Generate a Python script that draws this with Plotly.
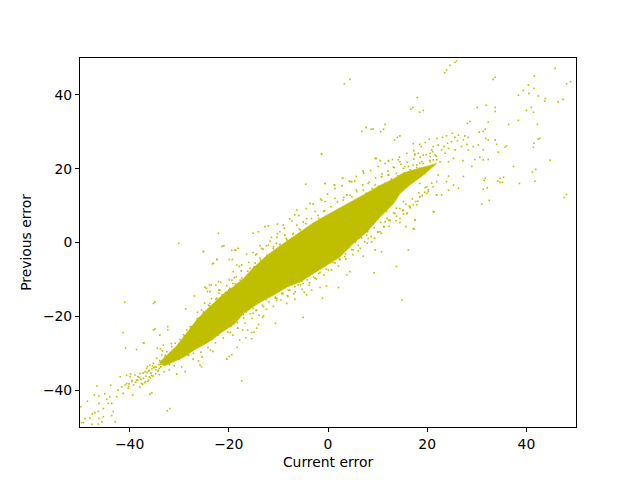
import plotly.graph_objects as go

# Dense core of the cloud (outline)
core_x = [-34,-30.5,-28.5,-26.5,-24.5,-22.4,-20.8,-19.1,-17.1,-15.1,-12.4,-10.3,-7.7,-5.6,-3,-.3,2.4,5.1,7.8,10.5,13.2,15.2,18.5,22,19,16.5,14.5,13.2,10.5,7.8,5.1,2.4,-.3,-3,-5.6,-8.3,-11,-13.7,-17.1,-18.8,-21.4,-24.1,-26.8,-29,-33]
core_y = [-32.5,-28,-24.5,-21,-18.2,-15.6,-13.6,-12,-9.8,-6.9,-3.6,-1.5,.9,3,5.3,7.4,9.4,11.2,13.4,15.5,17.2,18.9,20.2,21.5,18,15.6,13.2,10.5,6.9,2.8,-.3,-3.9,-6.2,-8.5,-10.7,-12.1,-14.3,-16.2,-19.3,-22,-24.3,-27,-29,-31,-33.5]

# Lower-left tail
low_x = [-49.7,-49,-49.3,-48,-47.6,-49.8,-48.5,-47.1,-46.6,-46.2,-46.2,-45,-44.6,-44,-43.8,-43.6,-44.3,-45.3,-46.3,-47,-47.5,-46.2,-45.3,-43.6,-43.3,-42.9,-45.6,-46.3,-42.6,-42.3,-41.9,-41.6,-41.3,-40.9,-40.6,-40.3,-39.9,-39.6,-39.2,-38.9,-38.6,-38.2,-37.9,-37.6,-37.2,-36.9,-36.6,-36.2,-35.9,-35.6,-35.2,-34.9,-34.5,-34.2,-33.9,-33.5,-33.2,-32.8,-32.5,-32.2,-31.8,-31.5,-31.1,-30.8,-30.5,-29.8,-29.5,-29.1,-28.8,-28.5,-28.1,-27.5,-27.1,-26.8,-29.5,-28.8,-30.5,-32.4,-31.9,-35.5,-35.9,-41.3,-37.1,-35.2,-34.9,-32.3,-32.3,-33.9,-34.9,-35.2,-28.7,-26.9,-25.1,-30.1,-21.4,-21,-19.4,-18.6,-19.9,-23.3,-22.4,-23.9,-24.5,-24.3,-22.6,-21.6,-22,-19.9,-19.2,-18.4,-17.9,-16.4,-14.4,-13.7,-12.4,-10.4,-8.4,-17.4,-20.1,-24.1,-25.1,-26.1,-27.8,-27.4,-26.4,-25.4,-28.2,-27.2,-26.1,-25.8,-25.5,-23.7,-23.2,-23.9,-24.2,-17.4,-20.4,-19.9,-19.4,-18.3,-17.8,-16.6,-15.4,-14.9,-16.2,-17.2,-18.2,-19.2,-20.2,-21.2,-23.2,-24.2,-14,-13.2,-15.4,-14.4,-13,-10.6,-10.3,-8.2,-6.9,-4.8,-3.8,-1.6,-.6,-2.6,-4,-5.3,-7.3,-9.3,-10.6,-41,-40.6,-40.2,-39.8,-39.4,-38.4,-38,-37,-36.4,-36,-35.4,-34,-33.6,-33,-32.6,-32,-31.4,-31,-30.4,-30,-33.8,-33.2,-32.8,-34.4,-33.4,-32,-31.6,-40.8,-40.1,-39.5,-38.8,-38.3,-37.7,-37.3,-36.7,-36.1,-35.7,-35.1,-34.7,-34.1,-33.7,-33.1,-32.7,-32.1,-31.7,-31.3,-30.7,-30.3,-29.7,-29.3,-38.6,-37.9,-37.4,-36.8,-36.3,-35.8,-35.3,-34.8,-34.3,-33.8,-33.3,-32.9,-32.4,-31.9,-31.2,-30.6,-30.1,-29.6,-37.2,-36.5,-36,-35.5,-34.6,-34,-33.5,-32.6,-32,-31.3,-30.8,-30.2]
low_y = [-48.8,-47.7,-48.8,-47.6,-49.3,-44.5,-43,-41.3,-38.9,-41.6,-43.6,-41,-42.5,-41.8,-38.7,-43.6,-43.6,-45,-45.8,-46.1,-46.5,-47.7,-47.2,-46.9,-45.8,-48.6,-48.6,-49.2,-41.8,-40,-36.4,-39.1,-40.9,-38.6,-38.2,-39.5,-36.4,-37.7,-38.6,-35.9,-37.3,-36.4,-35.5,-38.2,-36.8,-35,-34.1,-37.3,-33.2,-36,-32.7,-33.7,-31.4,-34.6,-32,-30.5,-33.2,-31,-29.6,-32.3,-30,-28.2,-31,-27.3,-29.6,-26.3,-29.3,-25,-28.4,-23.7,-30.5,-22.8,-30.1,-22.8,-33.7,-35,-35.7,-45.6,-45,-40.7,-41.1,-24.4,-27.2,-23.7,-23.4,-22.8,-23.7,-25.1,-16.1,-16.5,-18,-14.5,-2.4,-.2,-1.1,-.9,-2.1,-2.1,-4.6,-5.8,-4.6,-11.5,-12.4,-13.3,-11.6,-10.7,-13.8,-10.1,-11.1,-6.1,-6.5,-3.1,-3.1,-.9,-.9,-.2,-.2,-12.5,-15.1,-17,-18.8,-20.6,-22.8,-25.1,-26.4,-31,-30.6,-31.6,-32.1,-33.2,-33.7,-29.1,-29.5,-26.4,-25.1,-37.5,-31.6,-30.9,-30.4,-28.4,-26.4,-25.8,-26.1,-24.3,-23.7,-23.7,-23.2,-25.1,-24.3,-23.2,-26,-24.9,-22.2,-20.3,-24.4,-23.2,-19.9,-21.9,-15.1,-14.4,-13.9,-13.5,-11.6,-12.2,-5.5,-7.6,-8.4,-10.5,-11.1,-13.8,-15.1,-16.2,-36,-39,-35.6,-41.3,-37.2,-36.6,-38,-33.6,-36.4,-33.5,-35.8,-32.8,-35,-31.7,-34.5,-30.6,-33.4,-29.4,-31.6,-28.8,-27.8,-30.6,-28.6,-29.4,-32.4,-27.4,-28.6,-38.3,-37.4,-37.9,-36.3,-37.1,-35.4,-36.2,-34.8,-35.4,-33.9,-34.5,-33.1,-33.7,-32.2,-32.8,-31.2,-31.9,-30.3,-30.7,-29.1,-29.9,-28.4,-29,-39.2,-38.4,-37.7,-37.6,-36.7,-36.2,-35.6,-34.9,-33,-32.9,-31.7,-32,-30.1,-30.6,-28.7,-27.6,-27,-27.2,-35.2,-34.6,-34.2,-33.8,-34.1,-32.5,-32.5,-33.1,-31,-29.7,-29.3,-28.3]

# Upper fringe around the core, middle of the chart
upper_x = [-15.1,-14,-12.7,-12,-11.4,-10.3,-10.2,-9,-9.7,-8.7,-7.7,-6.3,-6.7,-6.3,-5,-4.3,-2.6,-3.6,-4.5,-1.3,-.6,-.6,1.3,-.9,-1.9,-3,-5.6,-7,-8.3,-11,-12,-13.4,-15.1,-13.7,-14.7,-15.7,-17.4,-19.1,-19.3,-23.1,-22.4,-21.1,-18.8,-18.1,-22.1,-25.1,-18.5,-17.7,-19.4,-22.1,-23.5,-24.8,-23.8,-21.8,-20.8,-19.8,-23.8,-25.5,-24.8,-22.4,1.4,3.1,3.8,4.8,5.8,7.1,8.1,9.5,10.8,12.2,13.8,12.8,14.9,15.5,17.2,18.5,20.6,21.2,17.5,18.5,19.6,14.2,12.2,9.7,7.1,4.8,2.9,-1.3]
upper_y = [2.5,2.9,4.3,4.5,1.4,1.4,5,4.7,2.9,2,6.4,8.8,7.5,4.7,5.6,6.5,8.4,10.6,15.8,11.5,11.1,16,15.6,8.4,6.5,4.7,3.4,2.5,.7,-1.1,-.7,-1.6,-2.7,-4.3,-5.6,-7,-6.1,-7.9,-4.6,-5.6,-4.6,-.9,-2,-1.6,2.5,-2.5,-9.3,-10.2,-10.2,-10.6,-11.5,-12.1,-13.3,-12.9,-13.8,-12.4,-16.5,-18.3,-19.6,-15.1,12,11.5,12.9,12.4,13.8,14.2,16,15.6,17.8,18.3,18.7,16.9,17.4,20.6,21,20.1,23.3,22.4,23.7,21.5,18.7,22.4,22.2,22.8,19.4,16.5,17.4,24]

# Lower fringe around the core, middle of the chart
under_x = [-17.1,-14.4,-13,-15.1,-10.3,-8.3,-6.7,-10,-9,-7.7,-6,-5,-4.3,-3.3,-2.6,-1.9,.1,-1.1,-.3,2.1,3.8,4.4,1.4,2.4,3.4,5.1,7.1,6.1,7.8,8.8,10.5,9.5,10.8,13.8,9.3,16.2,14.9,-5,11.5,12.5,14.5,15.9,17.5,17.2,21.2,21.9,19.9,18.5,17.9,15.2,13.8,11.8,9.8]
under_y = [-19.6,-18.3,-17.4,-19.2,-15.6,-16.5,-15.4,-13.3,-13.8,-12.9,-11.5,-11.1,-14.2,-12.9,-9.7,-8.4,-7.5,-15.1,-11.8,-12.2,-8.8,-7.9,-5.6,-4.7,-3.8,-2,-3.7,-2.3,2,.2,2.9,-2,-2.5,-6.5,-8.2,-2,-15.6,-20.3,5.6,6.1,6.5,7.9,6.1,3.8,8.4,12.9,13.3,12.4,10.2,8.8,9.3,8.4,6.5]

# Points packed close against both edges of the core
edge_x = [-29.6,-28.9,-28.3,-27.6,-27,-26.4,-25.7,-25.1,-24.6,-23.9,-23.2,-22.6,-21.9,-21.3,-20.6,-20,-19.3,-18.7,-18.1,-17.4,-16.8,-16.2,-15.5,-14.9,-14.2,-13.6,-12.9,-12.3,-11.6,-11,-10.4,-9.7,-9.1,-8.4,-7.8,-7.1,-6.5,-5.8,-5.2,-4.5,-3.9,-3.3,-2.6,-2,-1.3,-.7,0,.6,1.2,1.9,2.5,3.2,3.8,4.4,5.1,5.7,6.4,7,7.7,8.3,8.9,9.6,10.2,10.9,11.5,12.1,12.8,13.4,14.1,14.7,15.4,16,16.6,17.3,17.9,18.6,19.2,19.8,20.5,21.1,21.8,-29.2,-28.6,-27.9,-27.3,-26.7,-26,-25.4,-24.7,-24.1,-23.4,-22.8,-22.2,-21.5,-20.9,-20.2,-19.6,-18.9,-18.3,-17.7,-17,-16.4,-15.7,-15.1,-14.5,-13.8,-13.2,-12.5,-11.9,-11.2,-10.6,-10,-9.3,-8.7,-8,-7.4,-6.7,-6.1,-5.5,-4.8,-4.2,-3.5,-2.9,-2.2,-1.6,-1,-.3,.3,1,1.6,2.3,2.9,3.5,4.2,4.8,5.5,6.1,6.8,7.4,8,8.7,9.3,10,10.6,11.3,11.9,12.5,13.2,13.8,14.5,15.1,15.7,16.4,17,17.7,18.3,19,19.6,20.2,20.9,-26.3,-24.9,-23.5,-22,-20.4,-18.9,-17.5,-16,-14.6,-13.1,-11.7,-10.2,-8.8,-7.3,-5.9,-4.4,-3,-1.5,-.1,1.4,2.8,4.3,5.7,7.2,8.6,10.1,11.5,13,14.4,15.9,17.3,18.8,-25.6,-24.2,-22.7,-21.1,-19.7,-18.2,-16.7,-15.3,-13.9,-12.4,-11,-9.5,-8.1,-6.6,-5.2,-3.7,-2.3,-.8,.7,2.1,3.6,5,6.5,7.9,9.4,10.8,12.3,13.7,15.2,16.6,18.1,19.5]
edge_y = [-27.2,-25.3,-26.1,-23.1,-24.7,-20.6,-21.8,-18.9,-20.2,-17.2,-18.3,-15.4,-16.5,-14.2,-15.1,-12.8,-14,-11.2,-12.6,-9.6,-10.8,-7.8,-9.3,-6.6,-7.4,-4.8,-5.9,-3.5,-4.3,-1.6,-3,-.5,-1.4,1.1,-.4,2.2,.8,3.7,1.9,5.1,3.4,6.5,4.6,7.3,5.2,8.6,6.6,9.7,7.9,11,8.8,12.2,9.6,12.8,10.7,14.2,11.9,15.6,13.3,16.4,14.6,17.5,15.2,18.6,16,19.4,17.2,20.3,18.1,21.2,18.9,21.8,19.7,22.6,20.3,23.1,21.4,23.8,22.2,24.6,23.4,-30.6,-29.9,-29.1,-28.7,-27.5,-28.1,-26.9,-27.2,-25.5,-26.3,-24.4,-25.1,-24,-23.5,-22.2,-22.8,-21.1,-21.7,-19.4,-20.5,-18.8,-19.3,-17.9,-18.4,-16.2,-17,-15.4,-16.1,-14.1,-14.8,-13.2,-13.9,-11.6,-12.9,-11,-12,-10.3,-11.4,-9,-10.1,-8.2,-9.4,-7.1,-8.1,-6.3,-7.2,-4.6,-5.4,-3.7,-4.4,-2.2,-3.1,-1.4,-1.9,.1,-.8,1.3,.2,2.9,1.6,4,2.8,5.4,4.2,6.6,5.9,8,7.1,9.2,8.6,10.4,9.9,11.8,11.1,13.5,12.7,14.9,14.3,16.1,-18.9,-16.4,-15.2,-12.9,-11.7,-9.5,-7.7,-5.4,-3.4,-1.8,.3,2.4,3.9,5.8,7.3,9.2,10.4,11.8,13.1,14.6,15.4,16.7,17.9,18.8,19.5,20.6,21.4,22.5,23.1,24.2,24.9,26,-29.7,-28.5,-27.2,-25.9,-24.4,-23.2,-21.8,-20.6,-19.7,-18.1,-17.3,-15.6,-14.6,-13.4,-12.7,-10.9,-9.9,-8.8,-7.4,-6.4,-4.5,-3.3,-1.6,-.2,1.2,2.5,4.4,5.9,7.7,9.4,11.2,13.6]

# Upper-right tail
tail_x = [21.2,22,23.1,23.9,25.1,26.3,25.6,27.6,28.3,27.3,26.1,24.9,24.1,23.4,22.2,20.9,20.4,19.6,18.5,17.2,17.5,18.2,19.2,20.6,21.6,22.9,24.3,25.6,26.9,28,28.3,29.3,30.3,31.3,32.3,29.6,30.6,31.3,32.3,29,27.2,25.3,24.3,23.6,22.6,21.9,20.6,18.9,17.9,16.2,15.2,14.5,13.2,12.2,10.5,9.5,7.1,10.8,12.2,5.4,4.4,3,-.6,1.3,22.2,24.3,23.9,21.9,21.2,25.3,24.3,26.3,22.9,21.9,20.2,18.5,17.2,16,14.5,13.5,12.2,10.1,11.2,8.1,15.7,15.2,16.5,18.5,19.9]
tail_y = [26,28.2,28.5,28.9,29.6,29.1,28.5,28.9,28.5,27.8,27.6,27.3,26.9,26,26.4,25.1,28,27.1,26.6,26.8,24,24.2,23.7,24.2,23.7,25.1,25.5,25.1,26,26.6,25.1,26,26.4,25.1,27.8,22.5,23.1,22.4,22.5,20.6,22.2,22.8,21.9,24.2,21.9,22.4,21.9,21.9,21,20.6,20.1,21.9,20.4,22.1,22.2,22.8,19.2,17.8,18.3,16.7,16.5,17.4,16,15.6,18.3,18,16.5,16.5,15.1,15.6,14.2,14.7,12.9,12.9,13.8,12.4,10.2,7.9,5.4,7.9,6.1,2.9,4.3,1.1,4.3,11.1,9.7,16,15.1]

# Scattered outliers, upper right
far_x = [25.9,25.6,24.6,23.9,23.5,4.4,3.3,33.7,33.3,45.8,41.6,48.9,48.1,40.4,41.5,39.4,40.5,38.4,42.4,43.8,43.7,47.4,46.4,18,17.1,16.7,19.2,18.5,30.1,31.9,33.7,33.7,40,41,41.4,38.4,36.4,42.2,32.3,28.6,28.1,11.5,7.7,6.8,8.7,9.1,11.2,10.6,14.5,14,13.4,31.7,31.3,30.5,42.7,42.4,41.5,41.4,33.7,34,31.8,36,35.7,34.3,-1.3,44.8,37.4,41.9,41.2,41.7,38.6,34.7,35.4,34.2,34.7,35.2,31.7,31.5,27.3,31.3,32.1,48.1,47.6,32.5,31,21.4,17.5,17.4]
far_y = [49.2,48.8,48,46.8,46,44.2,43,44.8,44.2,47.2,45.1,43.6,43,42.7,41.8,41.2,40.4,39.9,39.7,39,38.3,38.8,38.1,39.3,36.6,36.1,35.8,35.3,36.6,37.2,36.6,35.5,35.8,36.6,35.3,33.1,32,32,32.6,32.8,32.3,32,31.2,30.1,30.7,30.8,30.7,30,28.9,28.5,27.8,30.7,30.1,29.9,28.2,28,26.9,25.8,27.8,26.6,28.2,26.2,25.8,24.5,23.9,22.3,20.6,19.8,19.1,16.6,16,17.4,17.7,16.6,16.3,16.3,17.4,16.8,17.9,14.4,14.8,13,12.2,11.4,10.4,8.3,6.1,3.6]

x_label = "Current error"
y_label = "Previous error"
tick_vals = [-40, -20, 0, 20, 40]
COLOR = "#bfbf00"

fig = go.Figure()
fig.add_trace(go.Scatter(x=core_x, y=core_y, mode="lines", fill="toself",
                         fillcolor=COLOR, line=dict(color=COLOR, width=0.5), hoverinfo="skip"))
for xs, ys in [(low_x, low_y), (upper_x, upper_y), (under_x, under_y), (edge_x, edge_y), (tail_x, tail_y), (far_x, far_y)]:
    fig.add_trace(go.Scatter(x=xs, y=ys, mode="markers",
                             marker=dict(symbol="square", size=1.6, color=COLOR, line=dict(width=0))))

axis = dict(range=[-50, 50], tickvals=tick_vals, showgrid=False, zeroline=False,
            showline=True, mirror=True, linecolor="black", linewidth=1,
            ticks="outside", ticklen=4, tickwidth=1, tickcolor="black",
            tickfont=dict(size=13.9, color="black"))
fig.update_layout(
    width=640, height=480, autosize=False, showlegend=False,
    paper_bgcolor="white", plot_bgcolor="white",
    font=dict(family="DejaVu Sans", size=13.9, color="black"),
    margin=dict(l=72, r=72, t=50, b=61, pad=0),
    xaxis=dict(axis, title=dict(text=x_label, standoff=6, font=dict(size=13.9))),
    yaxis=dict(axis, title=dict(text=y_label, standoff=8, font=dict(size=13.9))),
)
fig.write_html("out.html")
